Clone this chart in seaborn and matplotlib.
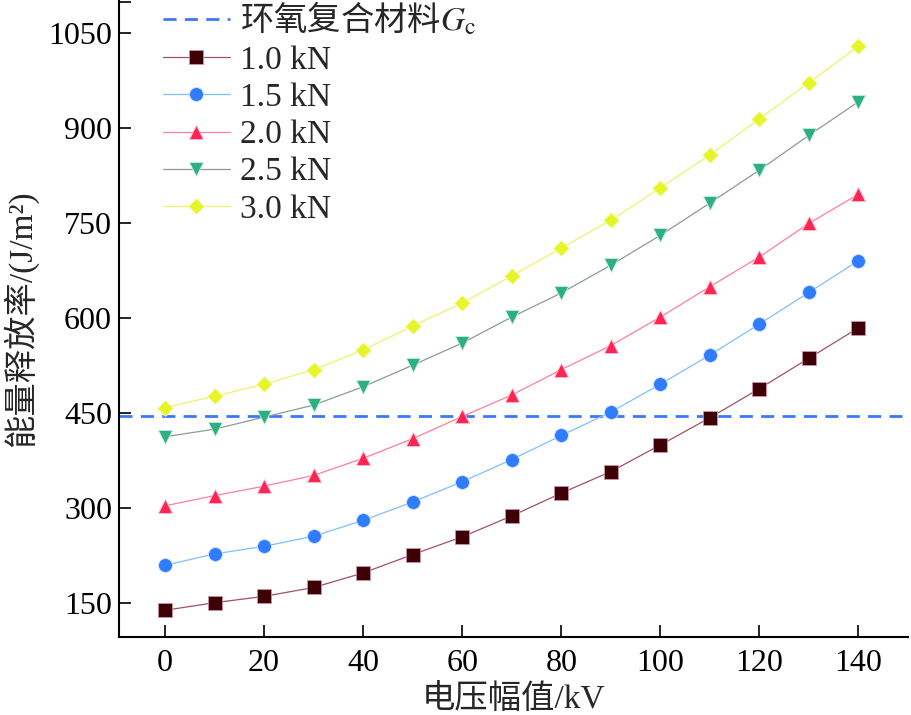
import matplotlib
matplotlib.use('Agg')
import matplotlib.pyplot as plt
import seaborn as sns
import numpy as np

# voltage amplitude (kV)
voltage = [0, 10, 20, 30, 40, 50, 60, 70, 80, 90, 100, 110, 120, 130, 140]

# energy release rate (J/m^2) for each load
g_10kn = [139, 151, 161, 175, 198, 227, 255, 288, 324, 358, 400, 443, 489, 537, 585]
g_15kn = [210, 228, 240, 256, 281, 310, 342, 377, 415, 452, 496, 542, 591, 641, 691]
g_20kn = [304, 320, 335, 352, 379, 410, 445, 479, 519, 557, 602, 650, 697, 750, 796]
g_25kn = [413, 425, 444, 463, 492, 526, 561, 602, 640, 684, 731, 782, 834, 889, 942]
g_30kn = [459, 477, 496, 519, 550, 588, 624, 667, 711, 755, 806, 858, 915, 972, 1030]

gc_epoxy = 445   # critical value of epoxy composite

labels = ['1.0 kN', '1.5 kN', '2.0 kN', '2.5 kN', '3.0 kN']
series = [g_10kn, g_15kn, g_20kn, g_25kn, g_30kn]

sns.set_theme(style='ticks')
plt.rcParams['font.family'] = ['Liberation Serif', 'Noto Sans CJK SC']
plt.rcParams['mathtext.fontset'] = 'stix'

line_colors = ['#a0506a', '#7fbfff', '#ff7fa0', '#8c9c94', '#eef26a']
marker_colors = ['#3d0005', '#2f7cff', '#ff2452', '#2daf80', '#e6f52a']
marker_edges = ['#d090a8', '#cfe4ff', '#ffc0d0', '#c8f0e0', '#f8fcc0']
markers = ['s', 'o', '^', 'v', 'D']
msizes = [9.5, 10, 10, 10, 8]

fig = plt.figure(figsize=(9.11, 7.15), dpi=100)
ax = fig.add_axes([119 / 911, 1 - 636.7 / 715, 789 / 911, 636.7 / 715])

ax.axhline(gc_epoxy, color='#3a78ff', lw=2, ls=(0, (4.7, 3)),
           label=r'环氧复合材料$G_\mathrm{c}$')

for vals, lab, lc, mc, me, mk, ms in zip(series, labels, line_colors,
                                         marker_colors, marker_edges, markers, msizes):
    sns.lineplot(x=voltage, y=vals, ax=ax, color=lc, lw=0.9, marker=mk,
                 markersize=ms, markerfacecolor=mc, markeredgecolor=me,
                 markeredgewidth=0.6, label=lab)

ax.set_xlim(-9.3, 150)
ax.set_ylim(97.3, 1102.6)
ax.set_xticks(np.arange(0, 141, 20))
ax.set_yticks([150, 300, 450, 600, 750, 900, 1050, 1100])
ax.set_yticklabels(['150', '300', '450', '600', '750', '900', '1050', ''])

for side in ['top', 'right']:
    ax.spines[side].set_visible(False)
for side in ['left', 'bottom']:
    ax.spines[side].set_linewidth(1.5)
    ax.spines[side].set_color('black')

ax.tick_params(direction='in', length=8.5, width=1.2, labelsize=23,
               colors='black', pad=5)
ax.tick_params(axis='x', pad=9)

ax.set_xlabel('电压幅值/kV', fontsize=24, labelpad=4)
ax.set_ylabel('能量释放率/(J/m²)', fontsize=24)
ax.yaxis.set_label_coords(-0.103, 0.5)

leg = ax.legend(loc='upper left', bbox_to_anchor=(0.0558, 0.998), frameon=False,
                fontsize=24, handlelength=2, handletextpad=0.3, labelspacing=0.2,
                borderpad=0, borderaxespad=0)
# mathtext label: plain part must come from a CJK font
leg.get_texts()[0].set_fontfamily('Noto Sans CJK SC')

fig.savefig('out.png', dpi=100)
